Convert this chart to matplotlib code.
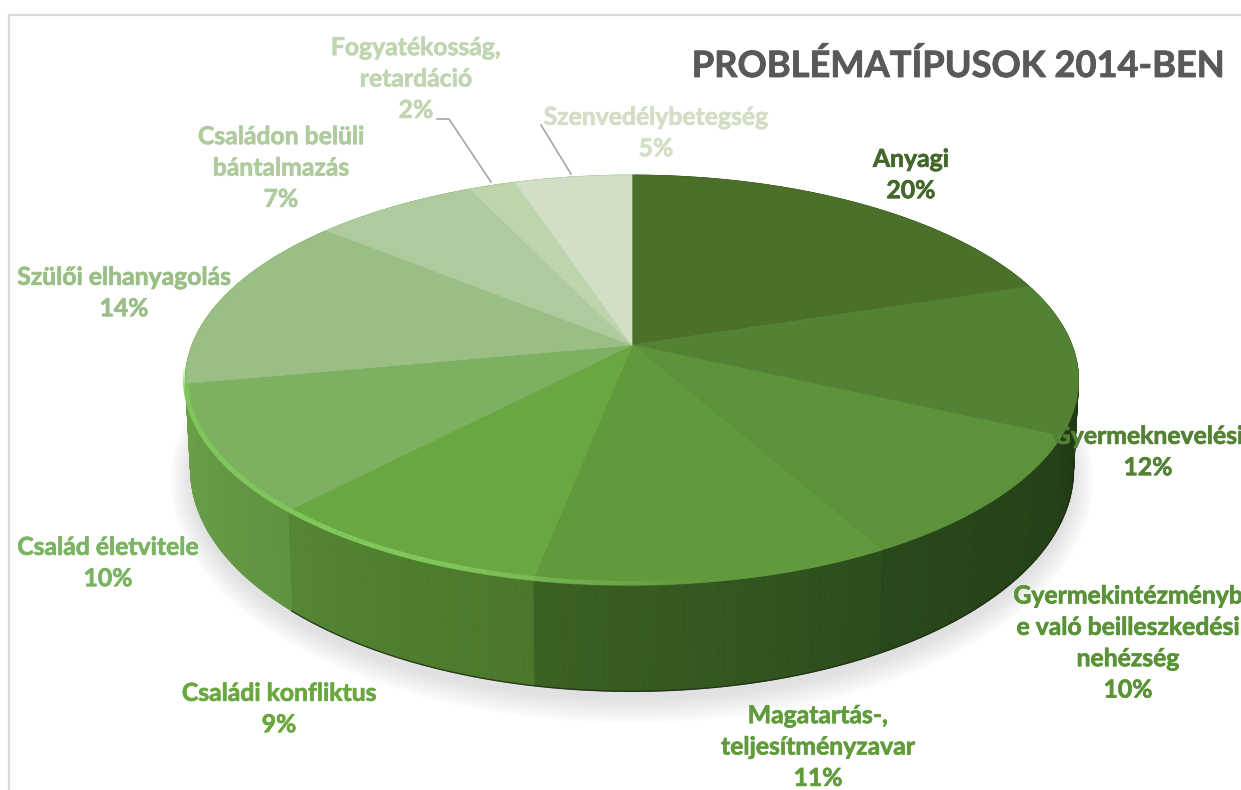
#!/usr/bin/env python3
# -*- coding: utf-8 -*-

import numpy as np
import matplotlib
matplotlib.use("Agg")
import matplotlib.pyplot as plt
import matplotlib.patheffects as pe
from matplotlib.collections import LineCollection, PolyCollection
from matplotlib.colors import to_rgb
from matplotlib.transforms import Transform

plt.rcParams['font.family'] = ['Lato', 'DejaVu Sans']

title = "PROBLÉMATÍPUSOK 2014-BEN"
names = ["Anyagi", "Gyermeknevelési", "Gyermekintézményb\ne való beilleszkedési\nnehézség",
         "Magatartás-,\nteljesítményzavar", "Családi konfliktus", "Család életvitele",
         "Szülői elhanyagolás", "Családon belüli\nbántalmazás", "Fogyatékosság,\nretardáció",
         "Szenvedélybetegség"]
values = [20, 12, 10, 11, 9, 10, 14, 7, 2, 5]

slice_colors = ["#4b7029", "#548235", "#5c9239", "#619a3c", "#69a740",
                "#7db060", "#9abe84", "#afcb9e", "#bdd5ad", "#d2dfc6"]
label_colors = ["#43682b", "#548235", "#5a9237", "#619c3c", "#6aa83f",
                "#7ab463", "#9abf85", "#afcb9e", "#c0d6b2", "#d2dfc6"]
label_pos = [(911, 175), (1148, 452), (1128, 643), (818, 747), (279, 709),
             (108, 563), (124, 293), (281, 168), (416, 79), (656, 133)]
# side wall shade at the start and the end of every slice
wall_shades = [("#1f3a14", "#1f3a14"), ("#1f3a14", "#223d15"), ("#243f17", "#29481a"),
               ("#2c4c1b", "#3b6122"), ("#4b762c", "#548633"), ("#5f9340", "#6a9f48"),
               ("#6a9f48", "#6a9f48"), ("#6a9f48", "#6a9f48"), ("#6a9f48", "#6a9f48"),
               ("#6a9f48", "#6a9f48")]

# perspective of the tilted disc, in pixels
CX, CY = 632, 345
A, B, P = 440, 199, 0.171
BOT_A, BOT_B, BOT_Y = 435, 215, 432


class PieTilt(Transform):
    input_dims = 2
    output_dims = 2

    def transform_non_affine(self, values):
        u, v = np.asarray(values).T
        d = 1 + P * v
        return np.column_stack((CX + A * u / d, CY - B * v / d))


def top_rim(frac):
    u, v = np.sin(2 * np.pi * frac), np.cos(2 * np.pi * frac)
    d = 1 + P * v
    return np.column_stack((CX + A * u / d, CY - B * v / d))


def bottom_rim(frac, grow=0.0, shift=0.0):
    u, v = np.sin(2 * np.pi * frac), np.cos(2 * np.pi * frac)
    d = 1 + P * v
    return np.column_stack((CX + (BOT_A + grow) * u / d, BOT_Y + shift - (BOT_B + grow) * v / d))


fig = plt.figure(figsize=(12.41, 7.90), dpi=100)
ax = fig.add_axes([0, 0, 1, 1])

wedges, _ = ax.pie(values, colors=slice_colors, startangle=90, counterclock=False,
                   wedgeprops={"linewidth": 0.5, "zorder": 5})
tilt = PieTilt()
for w in wedges:
    w.set_edgecolor(w.get_facecolor())
    w.set_transform(tilt + ax.transData)

ax.set_aspect("auto")
ax.set_xlim(0, 1241)
ax.set_ylim(790, 0)
ax.axis("off")

# soft shadow under the disc
all_fracs = np.linspace(0, 1, 361)
for k in range(14):
    ax.fill(*bottom_rim(all_fracs, grow=k * 1.5, shift=8).T, color="#7c7c8c", alpha=0.016,
            lw=0, zorder=1)

# side wall, made of thin quads along the rim
edges = np.concatenate(([0], np.cumsum(values))) / sum(values)
quads, quad_colors = [], []
for i, (c0, c1) in enumerate(wall_shades):
    fr = np.linspace(edges[i], edges[i + 1], max(3, values[i] * 5))
    tp, bt = top_rim(fr), bottom_rim(fr)
    c0, c1 = np.array(to_rgb(c0)), np.array(to_rgb(c1))
    for j in range(len(fr) - 1):
        quads.append([tp[j], tp[j + 1], bt[j + 1], bt[j]])
        t = j / (len(fr) - 2)
        quad_colors.append(c0 + (c1 - c0) * t)
ax.add_collection(PolyCollection(quads, facecolors=quad_colors, edgecolors=quad_colors,
                                 linewidths=0.6, zorder=2))

# dark line at the lower edge
edge_fr = np.linspace(0.27, 0.62, 150)
ax.plot(*bottom_rim(edge_fr).T, color="#1d2c12", lw=1.0, alpha=0.8, zorder=3)

# light bevel on the lower left rim
hl_fr = np.linspace(0.735, 0.48, 120)
hl = top_rim(hl_fr)
hl[:, 1] -= 1.5
segs = np.stack((hl[:-1], hl[1:]), axis=1)
hl_alpha = np.clip((hl_fr[:-1] - 0.48) / 0.08, 0, 1) * np.clip((0.735 - hl_fr[:-1]) / 0.02, 0, 1)
hl_colors = [(0.50, 0.78, 0.36, a) for a in hl_alpha]
ax.add_collection(LineCollection(segs, colors=hl_colors, linewidths=3.6, zorder=6))

# leader lines
ax.plot([437, 449, 491], [119, 119, 182], color="#a6a6a6", lw=1.2, zorder=7)
ax.plot([541, 571], [125, 174], color="#a6a6a6", lw=1.2, zorder=7)

# frame of the original chart area
ax.plot([9, 9, 1241], [790, 15, 15], color="#d9d9d9", lw=1.6, zorder=0)

for name, val, col, (x, y) in zip(names, values, label_colors, label_pos):
    ax.text(x, y, f"{name}\n{val}%", color=col, fontsize=17.8, fontweight="bold",
            ha="center", va="center", linespacing=1.44, zorder=8, clip_on=True,
            path_effects=[pe.withStroke(linewidth=0.5, foreground=col)])

ax.text(1224, 66, title, color="#595959", fontsize=26.1, fontweight="bold",
        ha="right", va="center", zorder=8,
        path_effects=[pe.withStroke(linewidth=0.6, foreground="#595959")])

fig.savefig("out.png", dpi=100, facecolor="white")
